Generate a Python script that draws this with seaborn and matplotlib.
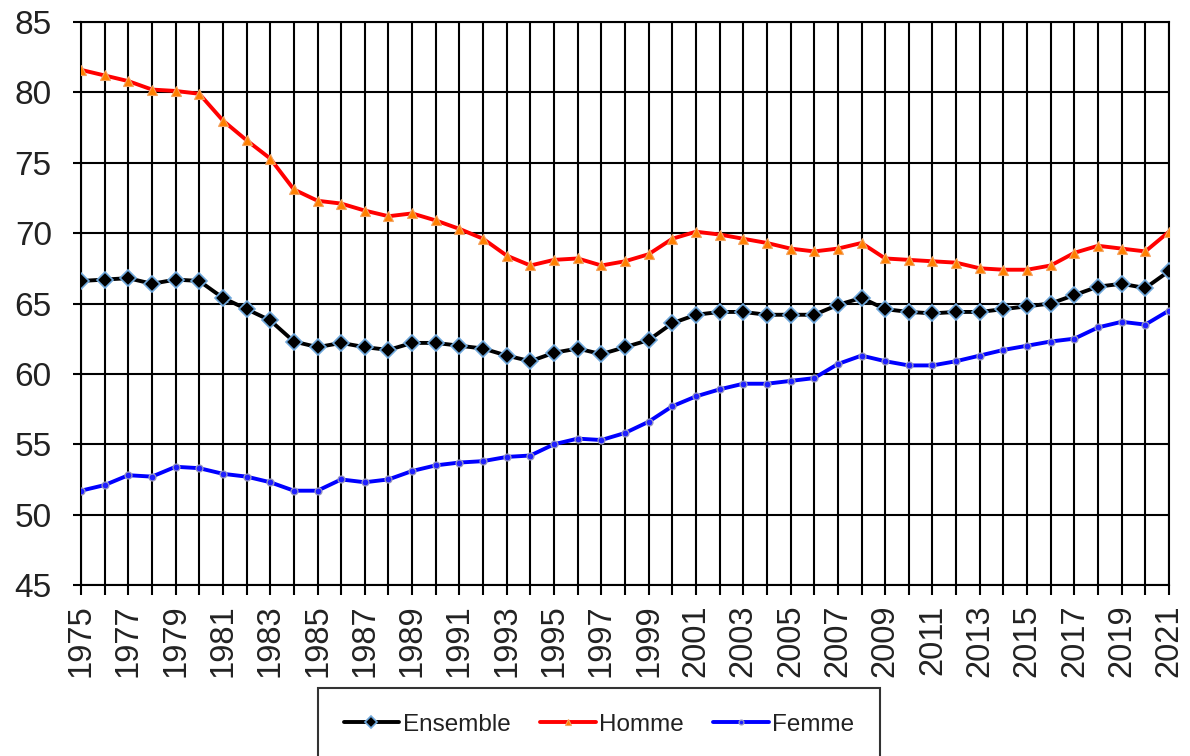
import seaborn as sns
import matplotlib.pyplot as plt
import pandas as pd

# Données
annees = list(range(1975, 2022))

ensemble = [66.6, 66.7, 66.8, 66.4, 66.7, 66.6, 65.4, 64.6, 63.8, 62.3,
            61.9, 62.2, 61.9, 61.7, 62.2, 62.2, 62.0, 61.8, 61.3, 60.9,
            61.5, 61.8, 61.4, 61.9, 62.4, 63.6, 64.2, 64.4, 64.4, 64.2,
            64.2, 64.2, 64.9, 65.4, 64.6, 64.4, 64.3, 64.4, 64.4, 64.6,
            64.8, 65.0, 65.6, 66.2, 66.4, 66.1, 67.3]

homme = [81.6, 81.2, 80.8, 80.2, 80.1, 79.9, 78.0, 76.6, 75.3, 73.1,
         72.3, 72.1, 71.6, 71.2, 71.4, 70.9, 70.3, 69.6, 68.4, 67.7,
         68.1, 68.2, 67.7, 68.0, 68.5, 69.6, 70.1, 69.9, 69.6, 69.3,
         68.9, 68.7, 68.9, 69.3, 68.2, 68.1, 68.0, 67.9, 67.5, 67.4,
         67.4, 67.7, 68.6, 69.1, 68.9, 68.7, 70.1]

femme = [51.7, 52.1, 52.8, 52.7, 53.4, 53.3, 52.9, 52.7, 52.3, 51.7,
         51.7, 52.5, 52.3, 52.5, 53.1, 53.5, 53.7, 53.8, 54.1, 54.2,
         55.0, 55.4, 55.3, 55.8, 56.6, 57.7, 58.4, 58.9, 59.3, 59.3,
         59.5, 59.7, 60.7, 61.3, 60.9, 60.6, 60.6, 60.9, 61.3, 61.7,
         62.0, 62.3, 62.5, 63.3, 63.7, 63.5, 64.5]

yticks = [45, 50, 55, 60, 65, 70, 75, 80, 85]

df = pd.DataFrame({"annee": annees, "Ensemble": ensemble,
                   "Homme": homme, "Femme": femme})

sns.set_theme(style="white")
plt.rcParams['font.family'] = ['Liberation Sans', 'DejaVu Sans']

fig = plt.figure(figsize=(11.9, 7.56), dpi=100)
ax = fig.add_axes([81 / 1190, 1 - 585 / 756, (1169 - 81) / 1190, (585 - 22) / 756])

sns.lineplot(data=df, x="annee", y="Ensemble", ax=ax, color="black", linewidth=2.8,
             marker="D", markersize=8.5, markerfacecolor="black",
             markeredgecolor="#6fa8dc", markeredgewidth=1.2, label="Ensemble", zorder=4)
sns.lineplot(data=df, x="annee", y="Homme", ax=ax, color="#ff0000", linewidth=2.8,
             marker="^", markersize=6.5, markerfacecolor="#ff7f00",
             markeredgecolor="#f4a460", markeredgewidth=0.8, label="Homme", zorder=3)
sns.lineplot(data=df, x="annee", y="Femme", ax=ax, color="#0000ff", linewidth=2.8,
             marker="o", markersize=5, markerfacecolor="#2020ff",
             markeredgecolor="#9a9ac0", markeredgewidth=0.9, label="Femme", zorder=3)

ax.set_xlim(1975, 2021)
ax.set_ylim(45, 85)
ax.set_xticks(annees)
ax.set_xticklabels([str(a) if (a - 1975) % 2 == 0 else "" for a in annees],
                   rotation=90)
ax.set_yticks(yticks)
ax.set_xlabel("")
ax.set_ylabel("")

ax.grid(True, color="black", linewidth=1.5)
ax.set_axisbelow(True)
for s in ax.spines.values():
    s.set_color("black")
    s.set_linewidth(1.5)

ax.tick_params(axis="y", which="both", left=True, length=6, width=1.5,
               color="black", labelsize=24, pad=15, direction="out",
               labelcolor="#222222")
ax.tick_params(axis="x", which="both", bottom=True, length=7, width=1.5,
               color="black", labelsize=23.5, pad=7, direction="out",
               labelcolor="#222222")

ax.get_legend().remove()
handles, labels = ax.get_legend_handles_labels()
leg = fig.legend(handles, labels, loc="upper left", ncol=3, mode="expand",
                 bbox_to_anchor=(318 / 1190, 1 - 688 / 756, (880 - 318) / 1190, 0.0),
                 bbox_transform=fig.transFigure,
                 fontsize=17.5, frameon=True, fancybox=False, borderpad=1.05,
                 handlelength=2.3, handletextpad=0.15, markerscale=0.7,
                 borderaxespad=0, labelcolor="#222222")
leg.get_frame().set_edgecolor("black")
leg.get_frame().set_linewidth(1.5)

plt.savefig("out.png", dpi=100)
